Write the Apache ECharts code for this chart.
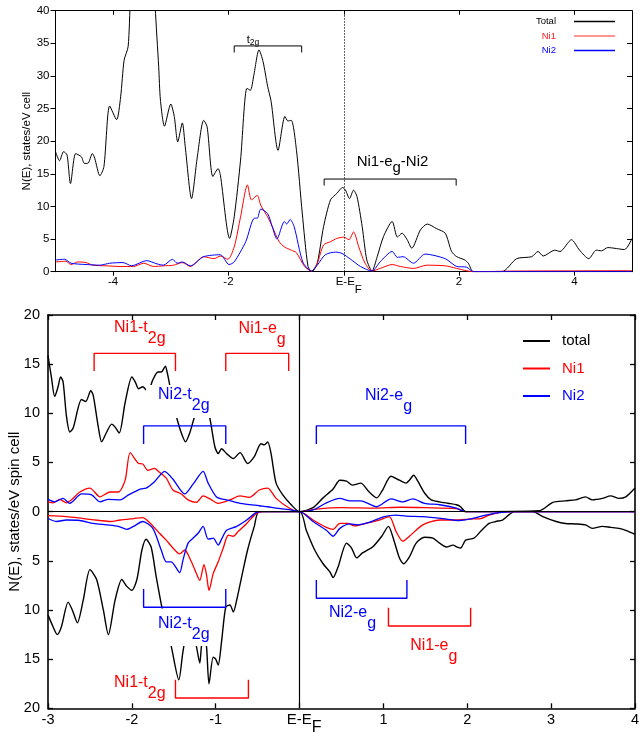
<!DOCTYPE html>
<html><head><meta charset="utf-8">
<script src="https://cdn.jsdelivr.net/npm/echarts@6/dist/echarts.min.js"></script>
<style>html,body{margin:0;padding:0;background:#fff}#c{width:639px;height:732px}</style>
</head><body><div id="c"></div>
<script>
// ---------- top panel data (E-EF, N(E)) ----------
const topTotal = [[-5.0,18.4],[-4.93,17.0],[-4.86,18.4],[-4.80,17.9],[-4.74,13.5],[-4.65,18.1],[-4.55,17.6],[-4.50,16.6],[-4.44,16.6],[-4.36,18.1],[-4.32,17.4],[-4.23,14.7],[-4.16,16.1],[-4.06,25.4],[-3.94,23.3],[-3.87,26.8],[-3.81,32.4],[-3.74,34.5],[-3.70,42],[-3.6,55],[-3.45,60],[-3.32,52],[-3.27,40.5],[-3.21,31.4],[-3.18,26.3],[-3.11,22.3],[-3.0,25.7],[-2.94,23.8],[-2.88,19.9],[-2.80,22.8],[-2.75,19.2],[-2.64,11.2],[-2.54,17.6],[-2.43,23.2],[-2.37,22.2],[-2.27,14.6],[-2.18,15.8],[-2.14,14.8],[-1.98,5.1],[-1.90,8.4],[-1.79,17.1],[-1.68,28.1],[-1.62,27.8],[-1.56,30.1],[-1.47,34.0],[-1.40,32.2],[-1.32,28.4],[-1.26,26.1],[-1.14,18.6],[-1.02,23.8],[-0.97,23.1],[-0.91,23.2],[-0.82,18.6],[-0.72,9.0],[-0.62,0.8],[-0.55,0],[-0.46,1.3],[-0.35,6.9],[-0.23,11.0],[-0.12,12.0],[-0.02,12.9],[0.03,12.5],[0.10,11.2],[0.17,12.5],[0.23,11.5],[0.32,6.9],[0.40,1.8],[0.49,0.1],[0.58,2.3],[0.69,5.4],[0.84,7.7],[0.93,5.3],[1.01,5.9],[1.10,4.9],[1.18,3.6],[1.33,6.4],[1.45,7.3],[1.61,6.6],[1.76,5.9],[1.87,3.1],[1.96,2.3],[2.10,1.8],[2.16,1.3],[2.25,0],[2.74,0],[3.00,2.0],[3.26,2.3],[3.37,3.1],[3.46,2.4],[3.66,3.3],[3.75,3.1],[3.95,4.9],[4.09,3.3],[4.25,2.0],[4.38,3.3],[4.47,3.2],[4.58,3.7],[4.87,3.4],[5.0,5.1]];
const topNi1 = [[-5,1.5],[-4.82,1.6],[-4.73,1.1],[-4.61,1.5],[-4.47,1.4],[-4.35,1.0],[-4.12,0.9],[-3.88,0.8],[-3.65,0.8],[-3.47,1.3],[-3.30,0.8],[-3.13,0.9],[-2.95,1.0],[-2.80,1.4],[-2.66,0.8],[-2.43,2.3],[-2.25,2.0],[-2.14,2.4],[-2.01,1.9],[-1.90,3.8],[-1.79,8.4],[-1.67,13.3],[-1.60,11.0],[-1.50,11.7],[-1.44,10.2],[-1.32,8.4],[-1.24,6.9],[-1.12,4.6],[-1.03,3.8],[-0.91,3.3],[-0.82,2.9],[-0.68,0.8],[-0.56,0.1],[-0.46,1.3],[-0.35,4.1],[-0.23,4.6],[-0.12,5.1],[0,5.3],[0.09,4.9],[0.17,6.1],[0.26,3.8],[0.37,1.3],[0.49,0.1],[0.63,0.5],[0.84,1.1],[0.98,0.8],[1.21,0.5],[1.44,1.0],[1.76,0.9],[1.96,0.5],[2.13,0.15],[2.25,0],[3.0,0.1],[5.0,0.15]];
const topNi2 = [[-5,1.8],[-4.84,1.9],[-4.73,1.3],[-4.47,1.1],[-4.23,1.0],[-4.06,1.3],[-3.83,1.4],[-3.68,0.9],[-3.42,1.7],[-3.24,1.2],[-3.13,1.0],[-2.97,1.9],[-2.89,1.3],[-2.80,1.5],[-2.66,0.9],[-2.43,2.3],[-2.14,2.6],[-1.99,1.1],[-1.90,1.5],[-1.70,4.6],[-1.55,8.2],[-1.50,8.2],[-1.44,9.6],[-1.32,8.9],[-1.24,6.9],[-1.16,5.0],[-1.03,7.7],[-0.99,7.3],[-0.93,8.0],[-0.86,6.9],[-0.71,1.5],[-0.56,0.1],[-0.46,1.0],[-0.32,2.6],[-0.14,3.0],[-0.03,2.8],[0.12,1.9],[0.29,0.8],[0.49,0.1],[0.63,1.5],[0.84,3.1],[0.93,2.2],[1.03,2.3],[1.21,1.3],[1.41,2.7],[1.76,2.0],[1.96,0.8],[2.13,0.7],[2.25,0],[5.0,0]];

// ---------- bottom panel data (spin up > 0, spin down < 0) ----------
const botTotalUp = [[-3.0,15.9],[-2.96,13.7],[-2.92,11.7],[-2.88,12.7],[-2.85,13.7],[-2.82,13.2],[-2.78,9.7],[-2.74,8.1],[-2.70,8.5],[-2.60,11.4],[-2.55,11.2],[-2.49,12.3],[-2.46,11.8],[-2.40,8.6],[-2.36,7.1],[-2.30,8.1],[-2.24,8.9],[-2.20,8.6],[-2.15,8.0],[-2.08,11.1],[-2.00,13.7],[-1.96,13.2],[-1.92,12.5],[-1.87,12.7],[-1.81,12.2],[-1.75,13.4],[-1.69,14.2],[-1.65,14.2],[-1.60,14.8],[-1.58,14.2],[-1.56,13.4],[-1.52,11.5],[-1.47,9.7],[-1.41,8.0],[-1.36,7.1],[-1.31,8.0],[-1.25,9.7],[-1.18,11.0],[-1.12,10.8],[-1.07,9.5],[-1.01,6.6],[-0.97,5.9],[-0.93,6.4],[-0.87,5.9],[-0.79,5.4],[-0.71,6.0],[-0.62,4.9],[-0.54,5.6],[-0.46,6.9],[-0.42,6.8],[-0.38,7.1],[-0.34,5.9],[-0.28,2.9],[-0.20,1.7],[-0.10,0.7],[0,0],[0.16,0.4],[0.28,1.4],[0.40,2.3],[0.48,3.2],[0.56,3.1],[0.63,2.7],[0.73,2.9],[0.83,2.0],[0.92,1.4],[0.99,2.2],[1.09,3.6],[1.19,3.2],[1.27,2.9],[1.31,3.2],[1.36,3.7],[1.41,3.1],[1.49,1.9],[1.57,1.2],[1.67,1.0],[1.77,0.85],[1.87,0.7],[1.92,0.5],[1.98,0],[2.86,0.1],[3.02,0.95],[3.17,1.1],[3.29,1.2],[3.41,1.5],[3.49,1.2],[3.61,1.35],[3.71,1.6],[3.81,1.35],[3.89,1.5],[4.0,2.4]];
const botNi1Up = [[-3.0,1.0],[-2.94,0.9],[-2.86,1.25],[-2.78,0.9],[-2.72,1.2],[-2.62,2.0],[-2.50,2.4],[-2.38,1.5],[-2.26,2.0],[-2.16,2.0],[-2.08,3.2],[-2.02,6.0],[-1.92,4.9],[-1.87,4.85],[-1.81,4.2],[-1.73,4.4],[-1.67,4.0],[-1.59,3.4],[-1.51,2.2],[-1.41,1.8],[-1.33,1.2],[-1.23,0.95],[-1.15,1.6],[-1.07,1.3],[-0.97,0.85],[-0.83,1.2],[-0.71,1.6],[-0.60,1.45],[-0.48,2.2],[-0.38,2.4],[-0.28,1.35],[-0.12,0.35],[0,0],[0.2,0.25],[0.5,0.4],[0.9,0.35],[1.2,0.45],[1.5,0.4],[1.87,0.3],[1.98,0],[4.0,0]];
const botNi2Up = [[-3.0,1.25],[-2.92,1.0],[-2.82,1.35],[-2.74,0.85],[-2.60,1.8],[-2.48,1.7],[-2.38,1.0],[-2.28,1.25],[-2.14,1.2],[-2.04,1.7],[-1.90,2.3],[-1.83,2.4],[-1.73,3.05],[-1.61,4.1],[-1.51,3.3],[-1.37,1.8],[-1.27,2.8],[-1.15,4.1],[-1.09,2.9],[-0.99,1.5],[-0.87,1.2],[-0.71,0.85],[-0.48,0.6],[-0.38,0.5],[-0.28,0.35],[-0.12,0.2],[0,0],[0.16,0.17],[0.32,0.9],[0.48,1.35],[0.60,1.1],[0.73,1.1],[0.92,0.5],[1.09,1.3],[1.23,1.0],[1.35,1.3],[1.49,0.85],[1.67,0.7],[1.87,0.35],[1.98,0],[4.0,0]];
const botTotalDn = [[-3.0,-10.5],[-2.94,-11.7],[-2.89,-12.5],[-2.84,-11.7],[-2.76,-9.2],[-2.71,-10.0],[-2.65,-11.3],[-2.58,-9.0],[-2.50,-5.9],[-2.42,-6.9],[-2.34,-10.0],[-2.28,-12.5],[-2.20,-9.0],[-2.12,-6.9],[-2.06,-7.6],[-2.00,-8.0],[-1.94,-6.9],[-1.88,-3.9],[-1.83,-2.8],[-1.77,-3.6],[-1.71,-6.6],[-1.64,-9.8],[-1.58,-12.0],[-1.53,-13.7],[-1.44,-17.1],[-1.39,-14.2],[-1.33,-12.0],[-1.27,-12.2],[-1.23,-13.7],[-1.19,-15.4],[-1.17,-13.7],[-1.14,-12.5],[-1.11,-13.7],[-1.08,-17.5],[-1.03,-14.8],[-1.00,-15.0],[-0.97,-15.6],[-0.93,-13.2],[-0.88,-9.7],[-0.83,-9.5],[-0.79,-10.2],[-0.75,-9.0],[-0.69,-6.6],[-0.62,-3.9],[-0.54,-1.5],[-0.48,0],[0,0],[0.08,-1.9],[0.18,-3.9],[0.28,-5.3],[0.36,-6.1],[0.40,-6.7],[0.46,-5.6],[0.56,-3.2],[0.62,-3.7],[0.68,-4.7],[0.75,-4.2],[0.87,-3.6],[0.98,-2.5],[1.06,-1.5],[1.11,-2.5],[1.19,-4.7],[1.24,-5.3],[1.31,-4.6],[1.39,-3.2],[1.49,-2.6],[1.59,-2.7],[1.67,-3.2],[1.75,-3.6],[1.83,-3.4],[1.88,-3.6],[1.92,-3.7],[1.98,-2.9],[2.08,-2.7],[2.16,-2.0],[2.26,-1.2],[2.34,-1.0],[2.42,-0.85],[2.50,-0.3],[2.56,0],[2.78,0],[2.90,-0.5],[3.06,-1.0],[3.17,-1.2],[3.29,-1.25],[3.41,-1.35],[3.49,-1.7],[3.61,-1.5],[3.71,-1.6],[3.81,-1.7],[3.89,-1.9],[4.0,-2.3]];
const botNi1Dn = [[-3.0,-0.4],[-2.78,-0.5],[-2.58,-0.7],[-2.38,-0.9],[-2.26,-1.0],[-2.14,-0.85],[-1.98,-0.7],[-1.87,-0.6],[-1.75,-1.45],[-1.67,-2.2],[-1.59,-2.9],[-1.51,-3.7],[-1.43,-4.3],[-1.37,-3.9],[-1.29,-5.1],[-1.23,-6.3],[-1.19,-7.0],[-1.14,-5.4],[-1.11,-6.4],[-1.08,-8.0],[-1.03,-6.3],[-0.97,-5.1],[-0.91,-3.7],[-0.85,-2.4],[-0.79,-2.5],[-0.73,-2.0],[-0.63,-1.2],[-0.52,-0.2],[-0.44,0],[0,0],[0.16,-0.85],[0.32,-1.6],[0.40,-1.8],[0.48,-1.2],[0.58,-1.2],[0.65,-1.45],[0.79,-1.2],[0.95,-0.85],[1.07,-0.5],[1.15,-2.0],[1.23,-3.0],[1.31,-2.5],[1.47,-1.35],[1.67,-0.85],[1.87,-0.85],[2.02,-0.75],[2.16,-0.7],[2.26,-0.35],[2.38,-0.1],[2.54,0],[4.0,0]];
const botNi2Dn = [[-3.0,-0.7],[-2.90,-1.0],[-2.78,-0.85],[-2.62,-0.9],[-2.46,-1.2],[-2.30,-1.35],[-2.16,-1.5],[-2.06,-1.8],[-1.98,-1.5],[-1.87,-1.0],[-1.75,-1.7],[-1.65,-3.9],[-1.59,-5.1],[-1.53,-5.1],[-1.43,-6.2],[-1.39,-4.9],[-1.33,-3.2],[-1.27,-2.7],[-1.21,-2.2],[-1.15,-1.5],[-1.09,-2.8],[-1.03,-2.7],[-0.97,-3.4],[-0.93,-2.8],[-0.87,-1.9],[-0.75,-1.5],[-0.63,-0.85],[-0.52,-0.1],[-0.45,0],[0,0],[0.16,-1.0],[0.32,-1.9],[0.40,-2.5],[0.48,-1.7],[0.60,-1.25],[0.69,-1.35],[0.83,-1.1],[1.01,-0.5],[1.15,-0.35],[1.27,-0.45],[1.47,-0.5],[1.71,-0.7],[1.90,-0.9],[2.06,-0.7],[2.22,-0.35],[2.38,-0.1],[2.54,0],[4.0,0]];

// ---------- tick labels ----------
const topXTicks = [-4, -2, 0, 2, 4];
const botXTicks = [-3, -2, -1, 0, 1, 2, 3, 4];

// ---------- annotation brackets: [x1, x2, yBar, yLegEnd] ----------
const topBrackets = [[-1.90, -0.73, 34.6, 33.6], [-0.34, 1.95, 14.2, 13.2]];
const redBrackets = [[-2.45, -1.48, 16.1, 14.3], [-0.88, -0.13, 16.1, 14.3], [-1.48, -0.61, -18.95, -17.1], [1.06, 2.04, -11.63, -9.77]];
const blueBrackets = [[-1.86, -0.88, 8.72, 6.89], [0.20, 1.98, 8.72, 6.89], [-1.86, -0.88, -9.73, -7.86], [0.20, 1.28, -8.81, -6.95]];

// ---------- annotation labels: [main, sub, tail, x, y] ----------
const topNotes = [['t', '2g', '', -1.574, 36.35], ['Ni1-e', 'g', '-Ni2', 0.846, 18.0]];
const redNotes = [['Ni1-t', '2g', '', -1.905, 19.5], ['Ni1-e', 'g', '', -0.446, 19.45], ['Ni1-t', '2g', '', -1.905, -16.56], ['Ni1-e', 'g', '', 1.601, -12.8]];
const blueNotes = [['Ni2-t', '2g', '', -1.44, 12.89], ['Ni2-e', 'g', '', 1.06, 12.63], ['Ni2-t', '2g', '', -1.363, -9.84], ['Ni2-e', 'g', '', 0.631, -9.48]];

const FONT = '"Liberation Sans", Arial, Helvetica, sans-serif';
const xe = v => v === 0 ? '{p|}{m|E-E}{s|F}' : String(v);

function bracketLine(list) {
  const out = [];
  list.forEach(b => { out.push([b[0], b[3]], [b[0], b[2]], [b[1], b[2]], [b[1], b[3]], null); });
  return out;
}

const chart = echarts.init(document.getElementById('c'), null, { renderer: 'canvas' });

const option = {
  animation: false,
  backgroundColor: '#fff',
  textStyle: { fontFamily: FONT },
  grid: [
    { left: 55.5, top: 10.7, width: 576.5, height: 261, containLabel: false, outerBoundsMode: 'none' },
    { left: 48, top: 315, width: 587, height: 393.3, containLabel: false, outerBoundsMode: 'none' }
  ],
  legend: [
    {
      orient: 'vertical', right: 24, top: 16, align: 'right', selectedMode: false, padding: 0,
      icon: 'rect', itemWidth: 41, itemHeight: 1.3, itemGap: 3.5,
      textStyle: { fontSize: 9.5, lineHeight: 11, padding: [0, 13, 0, 0], fontFamily: FONT },
      data: [
        { name: 'Total', textStyle: { color: '#000' } },
        { name: 'Ni1', textStyle: { color: '#ff2020' }, itemStyle: { color: '#ff7070' } },
        { name: 'Ni2', textStyle: { color: '#0000ff' } }
      ]
    },
    {
      orient: 'vertical', left: 523, top: 333.5, align: 'left', selectedMode: false, padding: 0,
      icon: 'rect', itemWidth: 27, itemHeight: 2, itemGap: 12.5,
      textStyle: { fontSize: 15, lineHeight: 15, padding: [0, 0, 0, 7], fontFamily: FONT },
      data: [
        { name: 'total', textStyle: { color: '#000' } },
        { name: 'Ni1 ', textStyle: { color: '#ff0000' } },
        { name: 'Ni2 ', textStyle: { color: '#0000ff' } }
      ]
    }
  ],
  xAxis: [
    { type: 'value', gridIndex: 0, min: -5, max: 5, position: 'bottom',
      axisLine: { onZero: false, lineStyle: { color: '#000', width: 1 } },
      axisTick: { show: true, inside: false, length: 4, customValues: topXTicks, lineStyle: { color: '#000' } },
      axisLabel: { customValues: topXTicks, formatter: xe, color: '#000', fontSize: 11.5, margin: 4,
        rich: { p: { width: 10 }, m: { fontSize: 11.5, lineHeight: 12, verticalAlign: 'top' }, s: { fontSize: 11.5, lineHeight: 20, verticalAlign: 'bottom' } } },
      splitLine: { show: false } },
    { type: 'value', gridIndex: 0, min: -5, max: 5, position: 'top',
      axisLine: { onZero: false, lineStyle: { color: '#000', width: 1 } },
      axisTick: { show: true, inside: true, length: 4, customValues: topXTicks, lineStyle: { color: '#000' } },
      axisLabel: { show: false }, splitLine: { show: false } },
    { type: 'value', gridIndex: 1, min: -3, max: 4, interval: 1, position: 'bottom',
      axisLine: { onZero: false, lineStyle: { color: '#000', width: 1.6 } },
      axisTick: { show: true, inside: true, length: 5, customValues: botXTicks, lineStyle: { color: '#000', width: 1.3 } },
      axisLabel: { customValues: botXTicks, formatter: xe, color: '#000', fontSize: 14.5, margin: 4,
        rich: { p: { width: 9 }, m: { fontSize: 15, lineHeight: 15, verticalAlign: 'top' }, s: { fontSize: 16, lineHeight: 23, verticalAlign: 'bottom' } } },
      splitLine: { show: false } },
    { type: 'value', gridIndex: 1, min: -3, max: 4, interval: 1, position: 'top',
      axisLine: { onZero: false, lineStyle: { color: '#000', width: 1.6 } },
      axisTick: { show: true, inside: true, length: 5, lineStyle: { color: '#000', width: 1.3 } },
      axisLabel: { show: false }, splitLine: { show: false } }
  ],
  yAxis: [
    { type: 'value', gridIndex: 0, min: 0, max: 40, interval: 5, position: 'left',
      name: 'N(E), states/eV cell', nameLocation: 'middle', nameGap: 22.5, nameMoveOverlap: false,
      nameTextStyle: { fontSize: 11.5, color: '#000', fontFamily: FONT },
      axisLine: { show: true, onZero: false, lineStyle: { color: '#000', width: 1 } },
      axisTick: { show: true, inside: false, length: 5, lineStyle: { color: '#000' } },
      axisLabel: { color: '#000', fontSize: 11.5, margin: 6 },
      splitLine: { show: false } },
    { type: 'value', gridIndex: 0, min: 0, max: 40, interval: 5, position: 'right',
      axisLine: { show: true, onZero: false, lineStyle: { color: '#000', width: 1 } },
      axisTick: { show: true, inside: true, length: 5, lineStyle: { color: '#000' } },
      axisLabel: { show: false }, splitLine: { show: false } },
    { type: 'value', gridIndex: 1, min: -20, max: 20, interval: 5, position: 'left',
      name: 'N(E), states/eV spin cell', nameLocation: 'middle', nameGap: 25.5, nameMoveOverlap: false,
      nameTextStyle: { fontSize: 15, color: '#000', fontFamily: FONT },
      axisLine: { show: true, onZero: false, lineStyle: { color: '#000', width: 1.6 } },
      axisTick: { show: true, inside: true, length: 5, lineStyle: { color: '#000', width: 1.3 } },
      axisLabel: { color: '#000', fontSize: 14.5, margin: 8, formatter: v => String(Math.abs(v)) },
      splitLine: { show: false } },
    { type: 'value', gridIndex: 1, min: -20, max: 20, interval: 5, position: 'right',
      axisLine: { show: true, onZero: false, lineStyle: { color: '#000', width: 1.6 } },
      axisTick: { show: true, inside: true, length: 5, lineStyle: { color: '#000', width: 1.3 } },
      axisLabel: { show: false }, splitLine: { show: false } }
  ],
  series: []
};

function curve(name, data, xi, yi, color, width, z) {
  return { type: 'line', name: name, data: data, xAxisIndex: xi, yAxisIndex: yi,
    showSymbol: false, symbol: 'none', smooth: 0.25, color: color,
    lineStyle: { color: color, width: width }, z: z || 2, silent: true };
}

const S = option.series;
const tot = curve('Total', topTotal, 0, 0, '#000', 1, 2);
tot.markLine = { silent: true, symbol: 'none', label: { show: false }, animation: false,
  lineStyle: { type: [1.5, 1.5], color: '#000', width: 0.8 }, data: [{ xAxis: 0 }] };
S.push(tot);
S.push(curve('Ni1', topNi1, 0, 0, '#ff0000', 1, 3));
S.push(curve('Ni2', topNi2, 0, 0, '#0000ff', 1, 4));

const bt = curve('total', botTotalUp, 2, 2, '#000', 1.4, 2);
bt.markLine = { silent: true, symbol: 'none', label: { show: false }, animation: false,
  lineStyle: { type: 'solid', color: '#000', width: 1.2 }, data: [{ xAxis: 0 }, { yAxis: 0 }] };
S.push(bt);
S.push(curve('total dn', botTotalDn, 2, 2, '#000', 1.4, 2));
S.push(curve('Ni1 ', botNi1Up, 2, 2, '#ff0000', 1.3, 3));
S.push(curve('Ni1 dn', botNi1Dn, 2, 2, '#ff0000', 1.3, 3));
S.push(curve('Ni2 ', botNi2Up, 2, 2, '#0000ff', 1.3, 4));
S.push(curve('Ni2 dn', botNi2Dn, 2, 2, '#0000ff', 1.3, 4));

// notes: white-boxed text placed at data coordinates through the axes
function noteSeries(list, color, xi, yi, mainFs, subFs, subShift, pads) {
  return {
    type: 'custom', coordinateSystem: 'cartesian2d', xAxisIndex: xi, yAxisIndex: yi, z: 10, silent: true,
    data: list.map(n => [n[3], n[4]]),
    encode: { x: 0, y: 1 },
    renderItem: function (params, api) {
      const n = list[params.dataIndex];
      const p = api.coord([api.value(0), api.value(1)]);
      const fs = Array.isArray(mainFs) ? mainFs[params.dataIndex] : mainFs;
      const sf = Array.isArray(subFs) ? subFs[params.dataIndex] : subFs;
      const sh = Array.isArray(subShift) ? subShift[params.dataIndex] : subShift;
      return {
        type: 'text', x: p[0], y: p[1], z2: 100,
        style: {
          text: '{m|' + n[0] + '}{s|' + n[1] + '}' + (n[2] ? '{m|' + n[2] + '}' : ''),
          align: 'center', verticalAlign: 'top',
          backgroundColor: '#fff', padding: pads ? pads[params.dataIndex] : 0,
          fill: color, fontFamily: FONT, fontSize: fs,
          rich: {
            m: { fontSize: fs, lineHeight: fs, verticalAlign: 'top', fill: color, fontFamily: FONT },
            s: { fontSize: sf, lineHeight: sf + sh, verticalAlign: 'bottom', fill: color, fontFamily: FONT }
          }
        }
      };
    }
  };
}
S.push(noteSeries(topNotes, '#000', 0, 0, [11, 15], [8.5, 15], [4.5, 6], null));
S.push(noteSeries(redNotes, '#ff0000', 2, 2, 16, 16, 11, null));
S.push(noteSeries(blueNotes, '#0000ff', 2, 2, 16, 16, 11, [[2, 2, 4, 12], [0, 0, 0, 0], [7.5, 6, 3, 3], [0, 0, 0, 0]]));

// brackets
function bracketSeries(list, color, xi, yi, w) {
  return { type: 'line', xAxisIndex: xi, yAxisIndex: yi, data: bracketLine(list), connectNulls: false,
    showSymbol: false, symbol: 'none', silent: true, z: 12, color: color,
    lineStyle: { color: color, width: w } };
}
S.push(bracketSeries(topBrackets, '#000', 0, 0, 1));
S.push(bracketSeries(redBrackets, '#ff0000', 2, 2, 1.4));
S.push(bracketSeries(blueBrackets, '#0000ff', 2, 2, 1.4));

chart.setOption(option);
</script>
</body></html>
